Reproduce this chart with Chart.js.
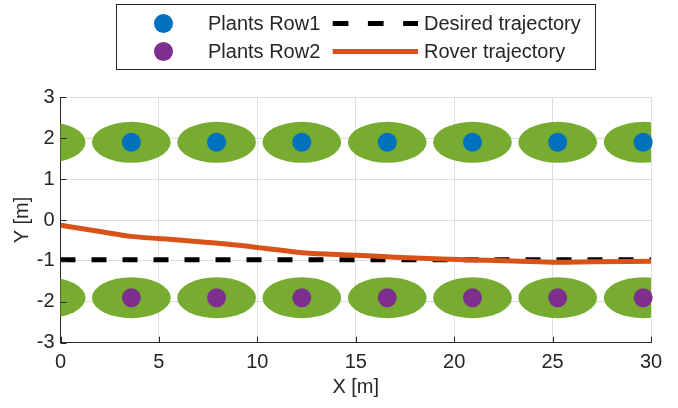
<!doctype html>
<html lang="en">
<head>
<meta charset="utf-8">
<title>Plant rows and rover trajectory</title>
<script src="https://cdn.jsdelivr.net/npm/chart.js"></script>
<style>
  html, body { margin: 0; padding: 0; background: #fff; }
  #wrap { width: 678px; height: 408px; }
</style>
</head>
<body>
<div id="wrap"><canvas id="plot" width="678" height="408"></canvas></div>
<script>
  // plant positions along the rows (m); the first canopy sits just left of x=0
  const canopyX = [-0.73, 3.6, 7.93, 12.26, 16.6, 20.93, 25.26, 29.6];
  const row1Y = 1.9;
  const row2Y = -1.9;

  // desired path and recorded rover path
  const desiredX = [0, 30];
  const desiredY = [-0.97, -0.97];
  const roverX = [0, 2, 3.6, 6, 8, 10, 12.3, 15, 17, 19, 21, 23, 25.3, 27, 30];
  const roverY = [-0.13, -0.28, -0.40, -0.49, -0.57, -0.67, -0.80, -0.86, -0.91, -0.95, -0.98, -1.00, -1.03, -1.02, -1.01];

  const xTicks = [0, 5, 10, 15, 20, 25, 30];
  const yTicks = [-3, -2, -1, 0, 1, 2, 3];

  const labels = ['Plants Row1', 'Plants Row2', 'Desired trajectory', 'Rover trajectory'];

  const FONT = '"Liberation Sans", Arial, Helvetica, sans-serif';
  const AX = '#262626';
  const canopy = { color: '#77AC30', halfW: 2.0, halfH: 0.5 };

  const pts = (xs, ys) => xs.map((x, i) => ({ x: x, y: ys[i] }));
  const rowPts = (y) => canopyX.map(x => ({ x: x, y: y }));

  // green canopies, drawn under the markers and clipped to the axes box
  const canopyPlugin = {
    id: 'canopy',
    beforeDatasetsDraw(chart) {
      const { ctx, chartArea: a, scales: { x, y } } = chart;
      ctx.save();
      ctx.beginPath();
      ctx.rect(a.left, a.top, a.right - a.left, a.bottom - a.top);
      ctx.clip();
      ctx.fillStyle = canopy.color;
      [row1Y, row2Y].forEach(ry => {
        canopyX.forEach(cx => {
          const px = x.getPixelForValue(cx);
          const py = y.getPixelForValue(ry);
          const rx = x.getPixelForValue(cx + canopy.halfW) - px;
          const rr = py - y.getPixelForValue(ry + canopy.halfH);
          ctx.beginPath();
          ctx.ellipse(px, py, rx, rr, 0, 0, Math.PI * 2);
          ctx.fill();
        });
      });
      ctx.restore();
    }
  };

  // MATLAB style inward ticks + the boxed legend on top
  const extrasPlugin = {
    id: 'extras',
    afterDraw(chart) {
      const { ctx, chartArea: a, scales: { x, y } } = chart;
      ctx.save();
      ctx.strokeStyle = AX;
      ctx.lineWidth = 1;
      ctx.beginPath();
      xTicks.forEach(v => {
        const px = Math.round(x.getPixelForValue(v)) + 0.5;
        ctx.moveTo(px, a.bottom); ctx.lineTo(px, a.bottom - 6);
      });
      yTicks.forEach(v => {
        const py = Math.round(y.getPixelForValue(v)) + 0.5;
        ctx.moveTo(a.left, py); ctx.lineTo(a.left + 6, py);
      });
      ctx.stroke();

      // legend
      const ds = chart.data.datasets;
      ctx.fillStyle = '#fff';
      ctx.fillRect(116.5, 4.5, 479, 65);
      ctx.strokeStyle = AX;
      ctx.strokeRect(116.5, 4.5, 479, 65);
      const rows = [23.5, 51.5];
      ctx.font = '20px ' + FONT;
      ctx.textBaseline = 'middle';
      ctx.textAlign = 'left';
      [ds[2], ds[3]].forEach((d, i) => {
        ctx.fillStyle = d.backgroundColor;
        ctx.beginPath();
        ctx.arc(163.5, rows[i], 9.5, 0, Math.PI * 2);
        ctx.fill();
        ctx.fillStyle = AX;
        ctx.fillText(d.label, 208, rows[i] + 1);
      });
      [ds[1], ds[0]].forEach((d, i) => {
        ctx.strokeStyle = d.borderColor;
        ctx.lineWidth = 5;
        ctx.setLineDash(d.borderDash ? [15.7, 19.5] : []);
        ctx.beginPath();
        ctx.moveTo(332.7, rows[i]);
        ctx.lineTo(418, rows[i]);
        ctx.stroke();
        ctx.setLineDash([]);
        ctx.fillStyle = AX;
        ctx.fillText(d.label, 424, rows[i] + 1);
      });
      ctx.restore();
    }
  };

  new Chart(document.getElementById('plot'), {
    type: 'scatter',
    data: {
      datasets: [
        {
          type: 'line',
          label: labels[3],
          data: pts(roverX, roverY),
          borderColor: '#D95319',
          borderWidth: 5,
          pointRadius: 0,
          cubicInterpolationMode: 'monotone',
          fill: false
        },
        {
          type: 'line',
          label: labels[2],
          data: pts(desiredX, desiredY),
          borderColor: '#000000',
          borderWidth: 5,
          borderDash: [15, 16],
          pointRadius: 0,
          fill: false
        },
        {
          label: labels[0],
          data: rowPts(row1Y),
          backgroundColor: '#0072BD',
          borderWidth: 0,
          pointRadius: 9.5,
          pointHoverRadius: 9.5,
          clip: { left: 0, top: false, right: false, bottom: false }
        },
        {
          label: labels[1],
          data: rowPts(row2Y),
          backgroundColor: '#7E2F8E',
          borderWidth: 0,
          pointRadius: 9.5,
          pointHoverRadius: 9.5,
          clip: { left: 0, top: false, right: false, bottom: false }
        }
      ]
    },
    options: {
      responsive: false,
      animation: false,
      events: [],
      layout: { padding: { top: 97.3, right: 27, left: 0, bottom: 0 } },
      plugins: { legend: { display: false }, tooltip: { enabled: false } },
      scales: {
        x: {
          type: 'linear',
          min: 0, max: 30,
          afterBuildTicks: s => { s.ticks = xTicks.map(v => ({ value: v })); },
          afterFit: s => { s.height = 65.3; },
          ticks: { color: AX, padding: 8, font: { family: FONT, size: 20 } },
          grid: { color: '#dedede', drawTicks: false },
          border: { color: AX, width: 1 },
          title: { display: true, text: 'X [m]', color: AX, font: { family: FONT, size: 20 }, padding: { top: 0, bottom: 9 } }
        },
        y: {
          type: 'linear',
          min: -3, max: 3,
          afterBuildTicks: s => { s.ticks = yTicks.map(v => ({ value: v })); },
          afterFit: s => { s.width = 60.5; },
          ticks: { color: AX, padding: 6, font: { family: FONT, size: 20 } },
          grid: { color: '#dedede', drawTicks: false },
          border: { color: AX, width: 1 },
          title: { display: true, text: 'Y [m]', color: AX, font: { family: FONT, size: 20 }, padding: { top: 10, bottom: 0 } }
        }
      }
    },
    plugins: [canopyPlugin, extrasPlugin]
  });
</script>
</body>
</html>
